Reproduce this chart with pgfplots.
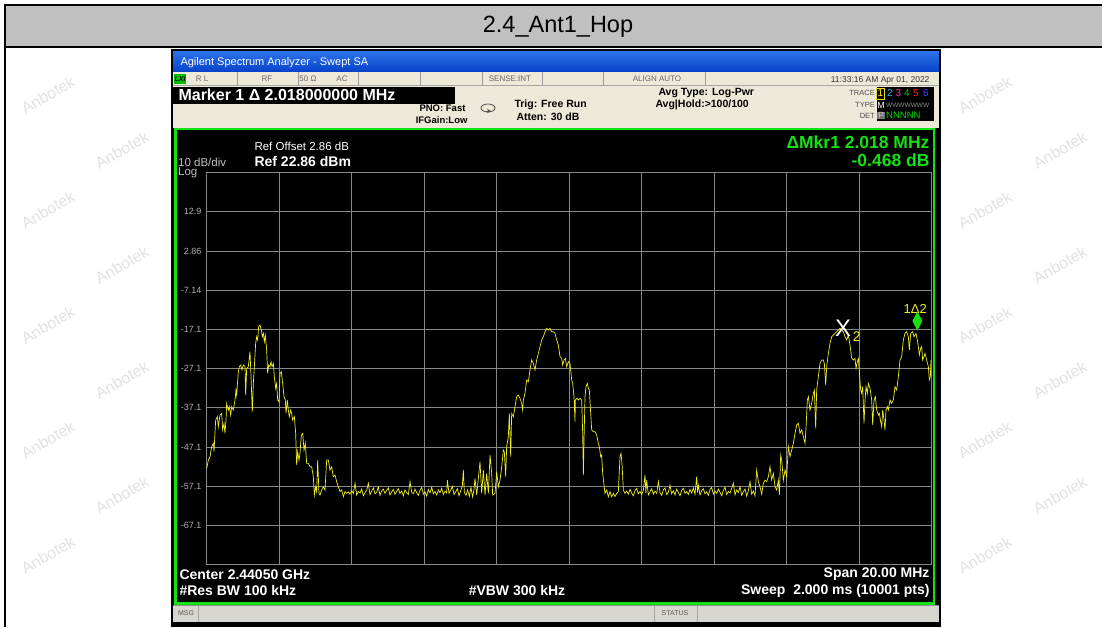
\documentclass[border=0pt]{standalone}
\usepackage{fontspec}
\setmainfont{Liberation Sans}
\usepackage{pgfplots}
\pgfplotsset{compat=1.18}
\definecolor{tracey}{RGB}{238,238,30}
\definecolor{gridg}{RGB}{135,135,135}
\definecolor{labg}{RGB}{175,175,175}
\definecolor{scrgreen}{RGB}{20,225,20}
\definecolor{beige}{RGB}{236,233,216}
\definecolor{titlegray}{RGB}{192,192,192}
\definecolor{msggray}{RGB}{216,214,208}
\definecolor{wm}{RGB}{226,226,226}
\newcommand\fs[1]{\fontsize{#1}{#1}\selectfont}
\begin{document}
\begin{tikzpicture}
\path[use as bounding box] (0,0) rectangle (1102pt,-627pt);
\begin{scope}[x=1pt,y=-1pt]
\fill[white] (0,0) rectangle (1102,627);
% watermarks
\foreach \px/\py in {48/95,48/210,48/325,48/440,48/555,122/150,122/265,122/380,122/495,
985/95,985/210,985/325,985/440,985/555,1060/150,1060/265,1060/380,1060/495}
  \node[rotate=30,text=wm,font=\fs{16}] at (\px,\py) {Anbotek};
% table frame and title
\fill[titlegray] (5,5) rectangle (1102,47);
\draw[black,line width=1.3pt] (5,627) -- (5,5) -- (1102,5);
\draw[black,line width=1.3pt] (5,47) -- (1102,47);
\node at (558,27) {\fs{23.5}2.4\_Ant1\_Hop};
% screenshot
\fill[black] (171,49) rectangle (941,627);
\shade[top color={rgb,255:red,45;green,115;blue,235},bottom color={rgb,255:red,5;green,65;blue,200}] (173,51) rectangle (939,72);
\node[anchor=west,text=white] at (177,62.5) {\fs{11}Agilent Spectrum Analyzer - Swept SA};
\fill[beige] (173,72) rectangle (939,128);
\draw[black!35] (173,85.5) -- (939,85.5);
\foreach \sx in {237,298,358,420,482,542,603,705}
  \draw[black!40] (\sx,72) -- (\sx,85);
\fill[green!75!black] (174,74) rectangle (186,84);
\node[text=black,font=\fs{7}\itshape\bfseries,inner sep=0pt] at (180,79) {LXI};
\node[text=black!60,font=\fs{8}] at (202,79) {R L};
\node[text=black!60,font=\fs{8}] at (267,79) {RF};
\node[text=black!60,font=\fs{8}] at (308,79) {50 Ω};
\node[text=black!60,font=\fs{8}] at (342,79) {AC};
\node[text=black!60,font=\fs{8}] at (510,79) {SENSE:INT};
\node[text=black!60,font=\fs{8}] at (657,79) {ALIGN AUTO};
\node[anchor=east,text=black!80,font=\fs{8.5}] at (933,80) {11:33:16 AM Apr 01, 2022};
\fill[black] (173,86.5) rectangle (455,103.5);
\node[anchor=west,text=white,font=\fs{16}\bfseries] at (175,95) {Marker 1 Δ 2.018000000 MHz};
\node[anchor=east,font=\fs{9.5}\bfseries] at (469,108.5) {PNO: Fast};
\node[anchor=east,font=\fs{9.5}\bfseries] at (471,120.5) {IFGain:Low};
\draw[black!70,line width=0.8pt] (488,108) ellipse (7 and 4);
\draw[black!70,line width=0.8pt,-stealth] (486,111) -- (491,111);
\node[anchor=west,font=\fs{10.5}\bfseries] at (511,105) {Trig: Free Run};
\node[anchor=west,font=\fs{10.5}\bfseries] at (513,117) {Atten: 30 dB};
\node[anchor=west,font=\fs{10.5}\bfseries] at (655,93) {Avg Type: Log-Pwr};
\node[anchor=west,font=\fs{10.5}\bfseries] at (652,105) {Avg|Hold:>100/100};
\node[anchor=east,text=black!70,font=\fs{7.5},inner sep=1pt] at (876,93) {TRACE};
\node[anchor=east,text=black!70,font=\fs{7.5},inner sep=1pt] at (876,105) {TYPE};
\node[anchor=east,text=black!70,font=\fs{7.5},inner sep=1pt] at (876,115.5) {DET};
\fill[black] (877,87) rectangle (934,121);
\draw[yellow!90!black] (876.5,88) rectangle (884,99);
\node[text=yellow,font=\fs{10},inner sep=0pt] at (880.3,93.5) {1};
\node[text=cyan!80!white,font=\fs{10},inner sep=0pt] at (890,93.5) {2};
\node[text=magenta!80!white,font=\fs{10},inner sep=0pt] at (898.5,93.5) {3};
\node[text=green!80!black,font=\fs{10},inner sep=0pt] at (907,93.5) {4};
\node[text=red!85!white,font=\fs{10},inner sep=0pt] at (916,93.5) {5};
\node[text=blue!75!white,font=\fs{10},inner sep=0pt] at (926,93.5) {6};
\node[text=white,font=\fs{9},inner sep=0pt] at (881,105.5) {M};
\node[anchor=west,text=black!45,font=\fs{6.5},inner sep=0pt] at (886,105.5) {WWWWWWW};
\node[text=black!20,fill=black!55,inner sep=0.6pt,font=\fs{9}] at (881,115.5) {P};
\node[anchor=west,text=green!85!black,font=\fs{9.5},inner sep=0pt] at (886,115.5) {NNNNN};
% display
\fill[scrgreen] (174,127.5) rectangle (935,604.5);
\fill[black] (177,130) rectangle (932.5,602);
\node[anchor=west,text=white,font=\fs{11.5}] at (251,146.5) {Ref Offset 2.86 dB};
\node[anchor=west,text=white,font=\fs{14}\bfseries] at (251,161.5) {Ref 22.86 dBm};
\node[anchor=west,text=black!25,font=\fs{11.5},inner sep=1pt] at (177,162) {10 dB/div};
\node[anchor=west,text=black!25,font=\fs{11.5},inner sep=1pt] at (177,172.5) {Log};
\node[anchor=east,text=scrgreen,font=\fs{17.5}\bfseries] at (933,142) {ΔMkr1 2.018 MHz};
\node[anchor=east,text=scrgreen,font=\fs{17.5}\bfseries] at (933,160) {-0.468 dB};
\node[anchor=west,text=white,font=\fs{14}\bfseries] at (176,574.5) {Center 2.44050 GHz};
\node[anchor=west,text=white,font=\fs{14}\bfseries] at (176,590.5) {\#Res BW 100 kHz};
\node[text=white,font=\fs{14}\bfseries] at (517,590.5) {\#VBW 300 kHz};
\node[anchor=east,text=white,font=\fs{14}\bfseries] at (933,574.5) {Span 20.00 MHz};
\node[anchor=east,text=white,font=\fs{14}\bfseries] at (933,590.5) {Sweep\ \ 2.000 ms (10001 pts)};
\fill[msggray] (173,605.5) rectangle (939,622);
\draw[black!45] (173,605.5) -- (939,605.5);
\draw[black!35] (198,605.5) -- (198,622) (654,605.5) -- (654,622) (697,605.5) -- (697,622);
\node[text=black!65,font=\fs{7}] at (186,613.5) {MSG};
\node[text=black!65,font=\fs{7}] at (675,613.5) {STATUS};
\end{scope}
\begin{axis}[
  at={(206.5pt,-564.5pt)}, anchor=south west,
  width=725pt, height=392pt, scale only axis,
  xmin=0, xmax=20, ymin=-77.14, ymax=22.86,
  axis background/.style={fill=black},
  axis line style={gridg,line width=0.8pt},
  xtick={0,2,...,20}, xticklabels={},
  ytick={-67.14,-57.14,-47.14,-37.14,-27.14,-17.14,-7.14,2.86,12.86},
  yticklabels={-67.1,-57.1,-47.1,-37.1,-27.1,-17.1,-7.14,2.86,12.9},
  grid=major, major grid style={gridg,line width=0.8pt},
  major tick length=0pt,
  yticklabel style={font=\fs{9},text=labg,xshift=-1.5pt},
  clip=false,
]
\addplot[tracey,line width=0.7pt] coordinates {
(0.005,-52.61)(0.051,-50.49)(0.097,-49.64)(0.143,-47.08)(0.189,-46.23)(0.207,-48.36)(0.253,-40.28)(0.299,-39.43)(0.326,-41.98)(0.372,-39.01)(0.418,-38.58)(0.446,-42.83)(0.483,-41.13)(0.510,-43.68)(0.538,-40.28)(0.556,-36.03)(0.602,-37.73)(0.630,-36.88)(0.667,-39.01)(0.694,-36.88)(0.740,-37.73)(0.786,-35.18)(0.814,-32.63)(0.832,-33.90)(0.878,-27.95)(0.906,-26.68)(0.943,-26.25)(0.979,-27.53)(1.016,-26.25)(1.062,-26.68)(1.080,-33.90)(1.108,-27.10)(1.154,-26.68)(1.200,-22.85)(1.228,-29.23)(1.264,-38.16)(1.292,-30.93)(1.320,-26.68)(1.356,-20.72)(1.384,-19.02)(1.411,-19.87)(1.439,-16.47)(1.476,-16.05)(1.513,-17.32)(1.540,-19.02)(1.568,-18.17)(1.595,-20.30)(1.623,-18.60)(1.660,-22.43)(1.687,-28.38)(1.715,-26.25)(1.752,-26.68)(1.779,-25.40)(1.807,-26.68)(1.844,-25.83)(1.871,-29.23)(1.908,-32.20)(1.936,-30.93)(1.963,-35.18)(2.000,-35.61)(2.028,-28.38)(2.064,-27.95)(2.101,-30.93)(2.138,-34.33)(2.175,-35.18)(2.193,-38.58)(2.230,-35.18)(2.257,-37.73)(2.285,-39.43)(2.322,-37.73)(2.349,-38.58)(2.377,-40.28)(2.423,-39.43)(2.460,-43.68)(2.487,-51.76)(2.515,-48.36)(2.552,-50.49)(2.579,-48.79)(2.616,-44.11)(2.653,-43.68)(2.690,-47.94)(2.726,-46.23)(2.763,-51.34)(2.809,-51.34)(2.855,-52.19)(2.901,-52.19)(2.947,-54.74)(2.975,-59.41)(3.011,-57.29)(3.039,-58.56)(3.067,-50.49)(3.103,-58.99)(3.131,-59.41)(3.177,-58.14)(3.223,-57.29)(3.269,-58.14)(3.315,-50.49)(3.361,-50.49)(3.407,-53.04)(3.453,-52.19)(3.499,-54.74)(3.545,-54.31)(3.591,-56.01)(3.637,-57.29)(3.683,-58.56)(3.729,-58.14)(3.775,-59.84)(3.821,-58.56)(3.867,-58.99)
(3.913,-58.6)(3.959,-59.2)(4.005,-58.3)(4.051,-59.0)(4.097,-56.4)(4.143,-59.4)(4.189,-58.5)(4.235,-58.9)(4.281,-57.9)(4.327,-59.6)(4.373,-58.8)(4.419,-58.2)(4.464,-56.4)(4.510,-59.3)(4.556,-58.4)(4.602,-57.6)(4.648,-59.1)(4.694,-58.7)(4.740,-57.3)(4.786,-59.5)(4.832,-58.4)(4.878,-57.9)(4.924,-59.0)(4.970,-58.2)(5.016,-57.6)(5.062,-59.4)(5.108,-58.6)(5.154,-58.0)(5.200,-59.2)(5.246,-58.5)(5.292,-57.8)(5.338,-59.0)(5.384,-58.4)(5.430,-59.6)(5.476,-58.1)(5.522,-58.8)(5.568,-59.3)(5.614,-56.0)(5.660,-58.7)(5.706,-59.1)(5.752,-57.9)(5.798,-58.8)(5.844,-59.5)(5.890,-58.2)(5.936,-57.5)(5.982,-59.2)(6.028,-58.6)(6.074,-59.7)(6.120,-58.0)(6.166,-58.9)(6.212,-57.4)(6.258,-59.1)(6.304,-58.5)(6.350,-59.4)(6.396,-58.1)(6.442,-58.8)(6.488,-57.7)(6.534,-59.3)(6.580,-58.4)(6.626,-58.9)(6.644,-55.6)(6.690,-59.0)(6.736,-58.2)(6.782,-57.2)(6.828,-59.3)(6.874,-58.6)(6.920,-57.8)(6.966,-59.6)(7.012,-58.3)(7.058,-57.0)(7.085,-53.0)(7.112,-58.7)(7.158,-59.5)(7.204,-58.1)(7.250,-59.8)(7.296,-57.5)(7.342,-59.9)(7.380,-58.0)
(7.407,-55.16)(7.453,-59.41)(7.545,-50.91)(7.591,-58.99)(7.637,-53.04)(7.683,-59.41)(7.729,-53.89)(7.775,-58.99)(7.821,-49.21)(7.867,-53.89)(7.894,-59.41)(7.959,-58.99)(8.005,-53.46)(8.051,-57.29)(8.097,-55.59)(8.143,-52.19)(8.189,-47.94)(8.216,-48.36)(8.253,-54.74)(8.280,-47.08)(8.326,-44.53)(8.354,-38.58)(8.391,-49.64)(8.418,-38.58)(8.464,-39.43)(8.510,-36.88)(8.556,-34.33)(8.602,-33.90)(8.648,-34.76)(8.694,-36.03)(8.722,-37.73)(8.740,-35.18)(8.786,-33.48)(8.832,-30.08)(8.878,-30.50)(8.924,-27.53)(8.970,-24.98)(9.016,-25.83)(9.062,-27.53)(9.108,-24.98)(9.154,-23.28)(9.200,-21.57)(9.246,-19.87)(9.292,-19.02)(9.338,-17.75)(9.384,-16.90)(9.430,-17.32)(9.476,-16.90)(9.522,-17.75)(9.568,-17.75)(9.614,-18.17)(9.660,-19.87)(9.706,-21.15)(9.752,-24.13)(9.798,-24.55)(9.825,-26.25)(9.862,-24.98)(9.899,-24.55)(9.936,-26.68)(9.982,-25.40)(10.028,-25.83)(10.074,-30.08)(10.101,-30.93)(10.138,-34.33)(10.166,-40.71)(10.175,-35.18)(10.212,-34.76)(10.258,-35.18)
(10.304,-34.76)(10.350,-35.18)(10.377,-43.68)(10.396,-54.31)(10.414,-45.38)(10.442,-34.33)(10.469,-31.78)(10.506,-30.93)(10.534,-32.20)(10.561,-32.63)(10.598,-38.58)(10.626,-42.83)(10.672,-43.26)(10.717,-43.26)(10.763,-44.11)(10.809,-46.23)(10.837,-47.08)(10.874,-49.64)(10.901,-49.21)(10.929,-53.89)(10.966,-56.86)(10.993,-58.99)(11.039,-58.14)(11.085,-59.84)(11.131,-58.56)(11.177,-59.84)(11.223,-58.99)(11.269,-59.84)(11.315,-58.99)(11.361,-58.56)(11.407,-49.64)(11.435,-48.79)(11.462,-51.34)(11.499,-58.14)(11.545,-58.99)
(11.591,-58.4)(11.637,-59.2)(11.683,-58.0)(11.729,-58.9)(11.775,-59.6)(11.821,-58.3)(11.867,-57.7)(11.913,-59.1)(11.959,-58.5)(12.005,-59.3)(12.051,-58.2)(12.097,-54.3)(12.120,-58.9)(12.143,-55.6)(12.189,-59.4)(12.235,-58.6)(12.281,-57.8)(12.327,-59.2)(12.373,-58.4)(12.419,-59.0)(12.465,-56.0)(12.511,-58.8)(12.557,-59.5)(12.603,-58.1)(12.649,-57.6)(12.695,-59.3)(12.741,-58.7)(12.786,-56.9)(12.832,-59.1)(12.878,-58.3)(12.924,-59.4)(12.970,-57.9)(13.016,-58.8)(13.062,-59.6)(13.108,-58.2)(13.154,-57.7)(13.200,-59.0)(13.246,-58.5)(13.292,-59.3)(13.338,-58.0)(13.384,-58.9)(13.430,-57.6)(13.476,-59.2)(13.522,-54.7)(13.545,-58.8)(13.568,-56.9)(13.614,-59.4)(13.660,-58.3)(13.706,-57.8)(13.752,-59.1)(13.798,-58.6)(13.844,-59.5)(13.890,-58.0)(13.936,-57.5)(13.982,-59.2)(14.028,-58.4)(14.074,-59.0)(14.120,-57.9)(14.166,-58.7)(14.212,-59.6)(14.258,-58.2)(14.304,-57.4)(14.350,-59.3)(14.396,-58.5)(14.442,-58.9)(14.488,-57.7)(14.534,-56.4)(14.580,-59.4)(14.626,-58.1)(14.672,-58.8)(14.718,-57.3)(14.764,-59.5)(14.810,-58.6)(14.856,-57.9)(14.902,-59.7)(14.948,-58.3)(14.993,-56.0)(15.039,-59.2)(15.085,-58.4)(15.131,-59.6)
(15.177,-53.04)(15.223,-56.01)(15.269,-57.29)(15.315,-59.2)(15.361,-56.44)(15.407,-55.59)(15.453,-56.01)(15.499,-54.74)(15.545,-52.19)(15.591,-55.59)(15.637,-53.89)(15.683,-57.29)(15.729,-58.14)(15.775,-55.59)(15.803,-59.41)(15.839,-49.21)(15.867,-50.49)(15.913,-55.59)(15.959,-53.04)(16.005,-54.74)(16.051,-47.08)(16.097,-49.64)(16.143,-47.94)(16.189,-46.23)(16.235,-43.68)(16.281,-41.56)(16.327,-41.13)(16.373,-43.68)(16.419,-42.83)(16.465,-44.53)(16.511,-46.23)(16.538,-42.41)(16.575,-35.18)(16.603,-34.33)(16.649,-37.73)(16.694,-36.03)(16.740,-33.48)(16.768,-32.63)(16.805,-42.41)(16.832,-32.63)(16.878,-29.23)(16.924,-25.83)(16.970,-24.98)(17.016,-24.98)(17.044,-25.83)(17.081,-31.35)(17.108,-26.68)(17.154,-23.28)(17.200,-20.72)(17.246,-19.02)(17.292,-18.60)(17.338,-18.17)(17.384,-17.75)(17.430,-17.32)(17.476,-16.90)(17.568,-17.75)(17.614,-19.02)(17.660,-19.87)(17.706,-18.60)(17.752,-21.15)(17.798,-24.55)(17.844,-24.98)(17.890,-24.55)(17.918,-27.10)(17.954,-25.40)(17.982,-24.55)(18.009,-27.95)(18.046,-32.63)(18.074,-33.48)(18.101,-31.78)(18.138,-41.13)(18.166,-35.18)(18.193,-31.78)(18.230,-33.48)(18.258,-30.93)(18.304,-32.20)(18.350,-35.18)(18.377,-41.56)(18.414,-35.18)(18.451,-34.33)(18.488,-37.73)(18.534,-39.01)(18.561,-38.58)(18.598,-40.71)(18.626,-41.98)(18.653,-37.73)(18.690,-40.28)(18.717,-42.83)(18.745,-37.73)(18.782,-36.88)(18.809,-37.73)(18.855,-35.18)(18.901,-36.03)(18.947,-35.18)(18.993,-31.78)(19.039,-32.63)(19.085,-29.23)(19.131,-24.98)(19.177,-24.13)(19.223,-19.87)(19.269,-18.17)(19.315,-17.75)(19.361,-19.02)(19.389,-22.43)(19.425,-18.17)(19.481,-17.75)(19.517,-19.02)(19.545,-18.60)(19.572,-18.17)(19.609,-19.87)(19.637,-21.57)(19.664,-23.70)(19.701,-22.00)(19.729,-21.57)(19.756,-24.98)(19.793,-24.13)(19.821,-23.28)(19.867,-24.98)(19.913,-26.68)(19.940,-30.08)(19.968,-29.23)(19.986,-24.98)
};
% marker 1 diamond
\node[text=tracey,font=\fs{13},inner sep=0pt] at (axis cs:19.55,-12.0) {1Δ2};
\addplot[draw=none,fill=scrgreen] coordinates {(19.61,-12.60)(19.748,-15.02)(19.61,-17.44)(19.472,-15.02)(19.61,-12.60)};
\node[text=white,font=\fs{24},inner sep=0pt] at (axis cs:17.56,-16.9) {X};
\node[text=tracey,font=\fs{14},inner sep=0pt] at (axis cs:17.94,-19.0) {2};
\end{axis}
\end{tikzpicture}
\end{document}
